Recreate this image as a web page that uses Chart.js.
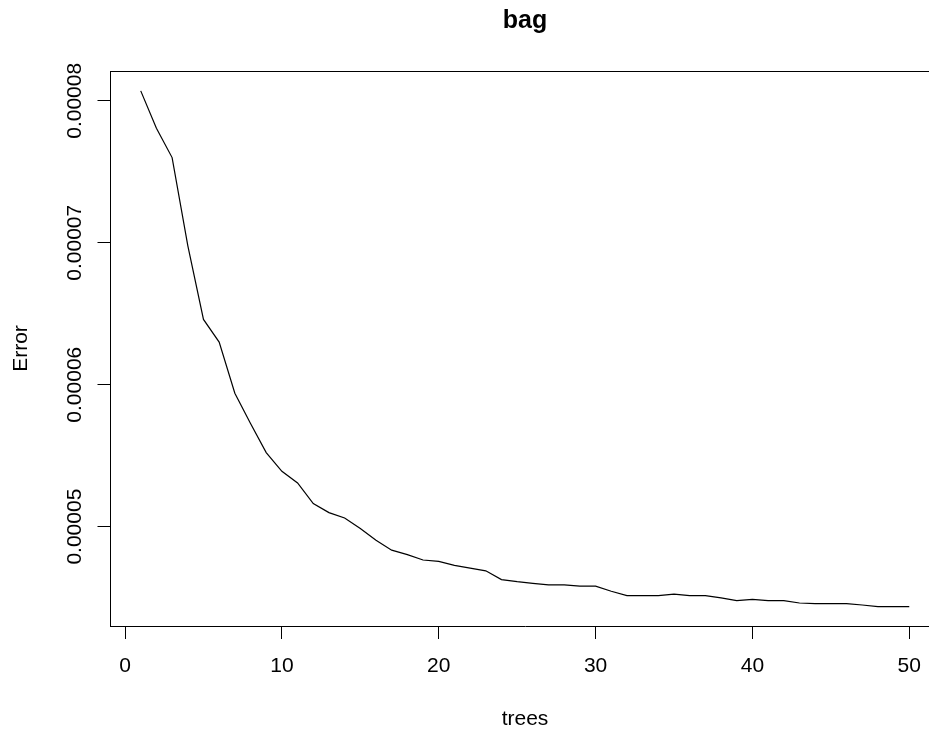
<!DOCTYPE html>
<html>
<head>
<meta charset="utf-8">
<script src="https://cdn.jsdelivr.net/npm/chart.js@4/dist/chart.umd.min.js"></script>
<style>
  html, body { margin: 0; padding: 0; background: #fff; overflow: hidden; width: 929px; height: 729px; }
  canvas { display: block; }
</style>
</head>
<body>
<canvas id="c" width="940" height="729"></canvas>
<script>
// ---- data ----
const titleText = 'bag';
const xTitle = 'trees';
const yTitle = 'Error';
const trees = [1,2,3,4,5,6,7,8,9,10,11,12,13,14,15,16,17,18,19,20,21,22,23,24,25,26,27,28,29,30,31,32,33,34,35,36,37,38,39,40,41,42,43,44,45,46,47,48,49,50];
const errorValues = [
  0.0000807, 0.00007806, 0.00007600, 0.00006980, 0.00006460, 0.00006300, 0.00005940, 0.00005727, 0.00005522, 0.00005390,
  0.00005308, 0.00005163, 0.00005099, 0.00005061, 0.00004987, 0.00004904, 0.00004834, 0.00004803, 0.00004765, 0.00004755,
  0.00004727, 0.00004708, 0.00004689, 0.00004627, 0.00004612, 0.00004600, 0.00004590, 0.00004590, 0.00004581, 0.00004581,
  0.00004545, 0.00004514, 0.00004514, 0.00004514, 0.00004524, 0.00004514, 0.00004514, 0.00004498, 0.00004479, 0.00004488,
  0.00004479, 0.00004479, 0.00004462, 0.00004457, 0.00004457, 0.00004457, 0.00004448, 0.00004436, 0.00004436, 0.00004436
];
const xTicks = [0, 10, 20, 30, 40, 50];
const xTickLabels = ['0', '10', '20', '30', '40', '50'];
const yTicks = [0.00005, 0.00006, 0.00007, 0.00008];
const yTickLabels = ['0.00005', '0.00006', '0.00007', '0.00008'];

const FONT = '"Liberation Sans", Arial, Helvetica, sans-serif';

const rPlugin = {
  id: 'rstyle',
  afterDraw(chart) {
    const { ctx, chartArea: a, scales: { y } } = chart;
    ctx.save();
    ctx.strokeStyle = '#000';
    ctx.lineWidth = 1;
    ctx.beginPath();
    ctx.moveTo(a.left, Math.round(a.top) + 0.5);
    ctx.lineTo(a.right, Math.round(a.top) + 0.5);
    ctx.stroke();
    ctx.fillStyle = '#000';
    ctx.font = '21px ' + FONT;
    ctx.textAlign = 'center';
    ctx.textBaseline = 'alphabetic';
    yTicks.forEach((v, i) => {
      const py = y.getPixelForValue(v);
      ctx.save();
      ctx.translate(81, py);
      ctx.rotate(-Math.PI / 2);
      ctx.fillText(yTickLabels[i], 0, 0);
      ctx.restore();
    });
    ctx.font = 'bold 25px ' + FONT;
    ctx.fillText(titleText, (a.left + a.right) / 2, 28);
    ctx.restore();
  }
};

new Chart(document.getElementById('c'), {
  type: 'line',
  data: {
    datasets: [{
      data: trees.map((t, i) => ({ x: t, y: errorValues[i] })),
      borderColor: '#000',
      borderWidth: 1.2,
      pointRadius: 0,
      tension: 0,
      fill: false
    }]
  },
  options: {
    responsive: false,
    animation: false,
    devicePixelRatio: 1,
    layout: { padding: { top: 71, left: 0, right: 0, bottom: 0 } },
    plugins: { legend: { display: false }, tooltip: { enabled: false }, title: { display: false } },
    scales: {
      x: {
        type: 'linear',
        position: 'bottom',
        min: -0.96,
        max: 51.96,
        afterBuildTicks: s => { s.ticks = xTicks.map(v => ({ value: v })); },
        afterFit: s => { s.height = 103; },
        ticks: {
          callback: (v) => { const i = xTicks.indexOf(v); return i >= 0 ? xTickLabels[i] : ''; },
          color: '#000',
          font: { family: FONT, size: 21 },
          padding: 15,
          maxRotation: 0,
          minRotation: 0,
          autoSkip: false
        },
        grid: { display: true, drawOnChartArea: false, drawTicks: true, tickLength: 13, color: '#000', lineWidth: 1 },
        border: { display: true, color: '#000', width: 1 },
        title: { display: true, text: xTitle, color: '#000', font: { family: FONT, size: 21, lineHeight: 0.9 }, padding: 0 }
      },
      y: {
        type: 'linear',
        position: 'left',
        min: 0.0000430,
        max: 0.0000821,
        afterBuildTicks: s => { s.ticks = yTicks.map(v => ({ value: v })); },
        afterFit: s => { s.width = 110; },
        ticks: { display: false },
        grid: { display: true, drawOnChartArea: false, drawTicks: true, tickLength: 12.5, color: '#000', lineWidth: 1 },
        border: { display: true, color: '#000', width: 1 },
        title: { display: true, text: yTitle, color: '#000', font: { family: FONT, size: 21, lineHeight: 1.2 }, padding: { top: 8.4, bottom: 0 } }
      }
    }
  },
  plugins: [rPlugin]
});
</script>
</body>
</html>
